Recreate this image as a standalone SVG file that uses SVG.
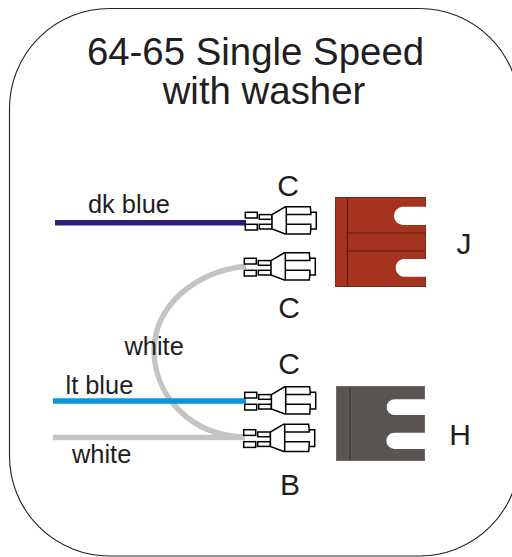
<svg xmlns="http://www.w3.org/2000/svg" width="512" height="557" viewBox="0 0 512 557">
<style>
text{font-family:"Liberation Sans",Arial,sans-serif;fill:#221e1f}
.t{font-size:38.4px;text-anchor:middle}
.l{font-size:30px;text-anchor:middle}
.s{font-size:25.4px}
.w{fill:none;stroke-width:5.4}
.c *{fill:#fff;stroke:#000;stroke-width:1.5}
.c .ln{fill:none}
</style>
<defs>
<g id="conn" class="c">
<rect x="0" y="0" width="12" height="5.7"/>
<rect x="14" y="2.300" width="12.700" height="4.700"/>
<rect x="0" y="12" width="12" height="5.700"/>
<rect x="14" y="12" width="12.700" height="4.700"/>
<path d="M26.700 2.300L40 -5.500H65L65.500 0H71V16.700H65.500L65 21.700H40L26.700 16.700Z"/>
<path class="ln" d="M41 -5.500V21.700M41 2.300H65.500V0M41 12H65.500V16.700"/>
</g>
</defs>
<rect id="frame" x="9.500" y="8.500" width="510" height="547.500" rx="100" ry="100" fill="#fff" stroke="#222" stroke-width="1.1"/>
<g id="title">
<text class="t" x="255.500" y="65">64-65 Single Speed</text>
<text class="t" x="264" y="104">with washer</text>
</g>
<g id="connectors">
<path class="w" stroke="#2e1a78" d="M55 222.700H246"/>
<path class="w" stroke="#c4c4c4" d="M246 266C195 272 155 305 154 350C154 395 190 436 245 437"/>
<path class="w" stroke="#0d95dc" d="M53 401H246"/>
<path class="w" stroke="#c4c4c4" d="M53 437.500H245"/>
</g>
<g id="plug-J">
<rect x="335.500" y="197.500" width="90" height="89" fill="#a5331f" stroke="#7a2a1c"/>
<path d="M347.500 198V286M348 233H425M348 251H425" stroke="#5c1d12" stroke-width="1.200" fill="none"/>
<path d="M426 206.700H403A9 9 0 0 0 403 225H426ZM426 259H403A9 9 0 0 0 403 276.700H426Z" fill="#fff"/>
</g>
<g id="plug-H">
<rect x="336.500" y="386.500" width="88" height="74" fill="#5a5452" stroke="#6e6a68"/>
<path d="M350 387V460" stroke="#3a3635" stroke-width="1.200" fill="none"/>
<path d="M425 399.300H394.500A7.800 7.800 0 0 0 394.500 415H425ZM425 432.700H394.500A8.100 8.100 0 0 0 394.500 449H425Z" fill="#fff"/>
</g>
<g id="terminal-1"><use href="#conn" x="245.300" y="212.300"/></g>
<g id="terminal-2"><use href="#conn" x="244.300" y="258.300"/></g>
<g id="terminal-3"><use href="#conn" x="244.700" y="392.300"/></g>
<g id="terminal-4"><use href="#conn" x="243.700" y="429.700"/></g>
<g id="labels">
<text class="l" x="288" y="196">C</text>
<text class="l" x="289" y="318">C</text>
<text class="l" x="289" y="374">C</text>
<text class="l" x="290" y="495">B</text>
<text class="l" x="464" y="254">J</text>
<text class="l" x="460" y="445">H</text>
<text class="s" x="88" y="212.500">dk blue</text>
<text class="s" x="124.500" y="355">white</text>
<text class="s" x="65.500" y="394">lt blue</text>
<text class="s" x="72" y="463">white</text>
</g>
</svg>
